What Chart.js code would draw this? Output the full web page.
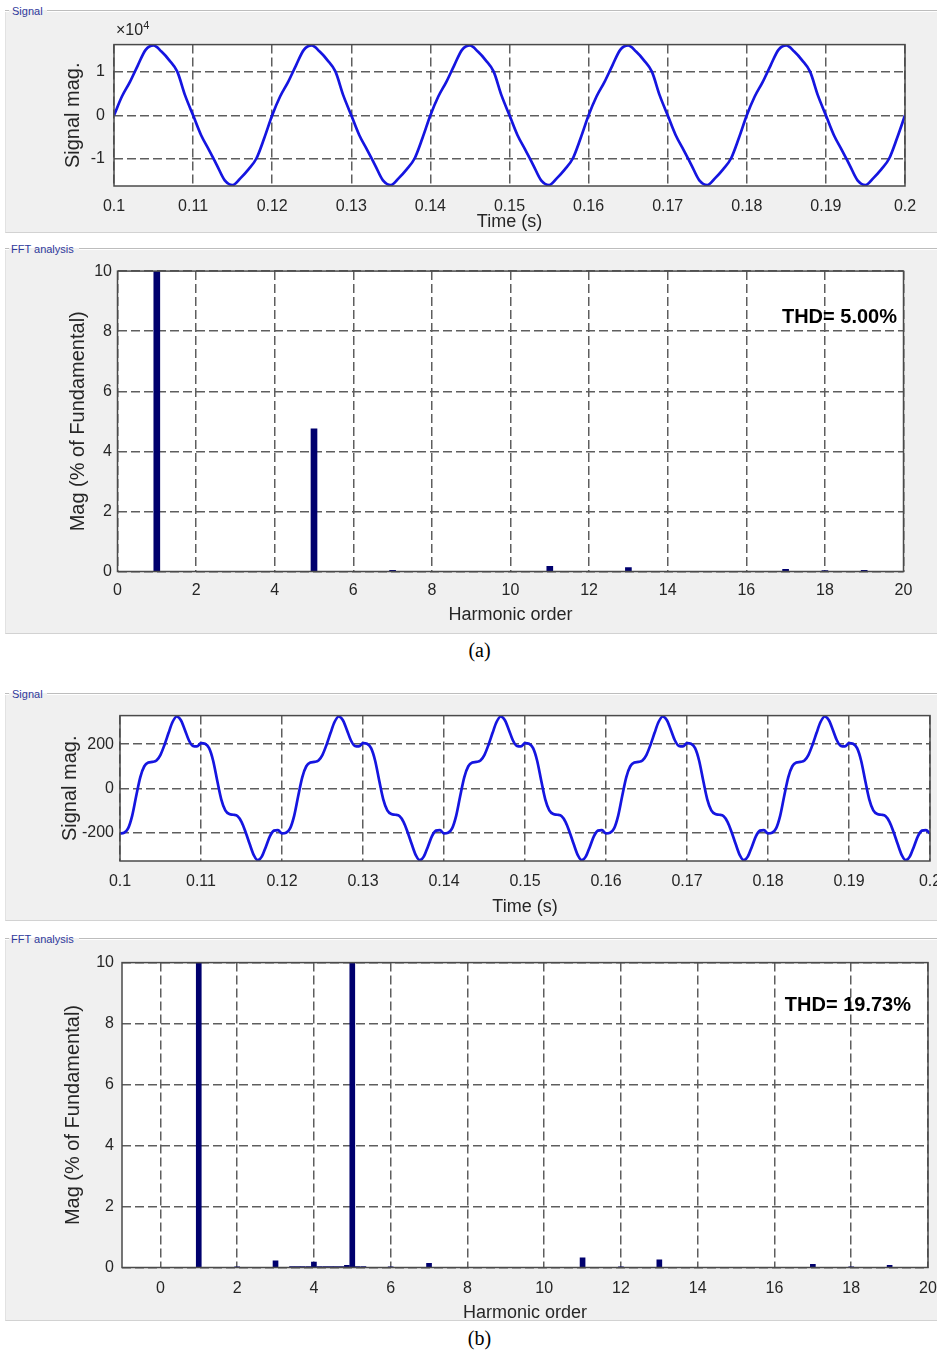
<!DOCTYPE html>
<html>
<head>
<meta charset="utf-8">
<script src="https://cdn.jsdelivr.net/npm/chart.js@4.4.1/dist/chart.umd.min.js"></script>
<style>
html,body{margin:0;padding:0;background:#fff;width:937px;height:1351px;overflow:hidden;position:relative;font-family:'Liberation Sans',Arial,Helvetica,sans-serif;}
.panel{position:absolute;left:5px;width:940px;background:#f0f0f0;border-bottom:1px solid #d2d2d2;border-left:1px solid #e2e2e2;}
.pline{position:absolute;height:1px;background:#bdbdbd;border-bottom:1px solid #ffffff;}
.ptitle{position:absolute;font-size:11px;line-height:12px;color:#2f3a9c;white-space:nowrap;}
canvas{position:absolute;left:0;}
.thd{position:absolute;font-weight:bold;font-size:20px;line-height:23px;color:#000;white-space:nowrap;}
.cap{position:absolute;left:0;width:959px;text-align:center;font-family:'Liberation Serif','Times New Roman',serif;font-size:20px;line-height:23px;color:#000;}
.exp{position:absolute;font-size:16px;line-height:18px;color:#262626;white-space:nowrap;}
.exp sup{font-size:11px;vertical-align:6px;line-height:0;}
</style>
</head>
<body>
<div class="panel" style="top:10px;height:222px;"></div>
<div class="pline" style="left:5px;width:4px;top:10px;"></div>
<div class="pline" style="left:47px;width:900px;top:10px;"></div>
<div class="ptitle" style="left:12px;top:5px;">Signal</div>

<div class="panel" style="top:248px;height:385px;"></div>
<div class="pline" style="left:5px;width:4px;top:248px;"></div>
<div class="pline" style="left:79px;width:870px;top:248px;"></div>
<div class="ptitle" style="left:11px;top:243px;">FFT analysis</div>

<div class="panel" style="top:693px;height:227px;"></div>
<div class="pline" style="left:5px;width:4px;top:693px;"></div>
<div class="pline" style="left:47px;width:900px;top:693px;"></div>
<div class="ptitle" style="left:12px;top:688px;">Signal</div>

<div class="panel" style="top:938px;height:382px;"></div>
<div class="pline" style="left:5px;width:4px;top:938px;"></div>
<div class="pline" style="left:79px;width:870px;top:938px;"></div>
<div class="ptitle" style="left:11px;top:933px;">FFT analysis</div>

<canvas id="c1"></canvas>
<canvas id="c2"></canvas>
<canvas id="c3"></canvas>
<canvas id="c4"></canvas>

<div class="exp" style="left:116px;top:21px;">&times;10<sup>4</sup></div>
<div class="thd" style="right:40px;top:305px;">THD= 5.00%</div>
<div class="thd" style="right:26px;top:993px;">THD= 19.73%</div>
<div class="cap" style="top:639px;">(a)</div>
<div class="cap" style="top:1327px;">(b)</div>

<script>
// ---------- DATA ----------
// (a) signal, values in units of 10^4
const signalATime = [
0.100,0.101,0.102,0.103,0.104,0.105,0.106,0.107,0.108,0.109,
0.110,0.111,0.112,0.113,0.114,0.115,0.116,0.117,0.118,0.119,
0.120,0.121,0.122,0.123,0.124,0.125,0.126,0.127,0.128,0.129,
0.130,0.131,0.132,0.133,0.134,0.135,0.136,0.137,0.138,0.139,
0.140,0.141,0.142,0.143,0.144,0.145,0.146,0.147,0.148,0.149,
0.150,0.151,0.152,0.153,0.154,0.155,0.156,0.157,0.158,0.159,
0.160,0.161,0.162,0.163,0.164,0.165,0.166,0.167,0.168,0.169,
0.170,0.171,0.172,0.173,0.174,0.175,0.176,0.177,0.178,0.179,
0.180,0.181,0.182,0.183,0.184,0.185,0.186,0.187,0.188,0.189,
0.190,0.191,0.192,0.193,0.194,0.195,0.196,0.197,0.198,0.199,
0.200];
const signalAValues = [
0,0.43,0.76,1.14,1.5,1.6,1.46,1.26,1.0,0.45,
0,-0.45,-0.79,-1.14,-1.49,-1.6,-1.44,-1.24,-0.99,-0.52,
0,0.43,0.76,1.14,1.5,1.6,1.46,1.26,1.0,0.45,
0,-0.45,-0.79,-1.14,-1.49,-1.6,-1.44,-1.24,-0.99,-0.52,
0,0.43,0.76,1.14,1.5,1.6,1.46,1.26,1.0,0.45,
0,-0.45,-0.79,-1.14,-1.49,-1.6,-1.44,-1.24,-0.99,-0.52,
0,0.43,0.76,1.14,1.5,1.6,1.46,1.26,1.0,0.45,
0,-0.45,-0.79,-1.14,-1.49,-1.6,-1.44,-1.24,-0.99,-0.52,
0,0.43,0.76,1.14,1.5,1.6,1.46,1.26,1.0,0.45,
0,-0.45,-0.79,-1.14,-1.49,-1.6,-1.44,-1.24,-0.99,-0.52,
0];

// (b) signal
const signalBTime = [
0.1000,0.1005,0.1010,0.1015,0.1020,0.1025,0.1030,0.1035,0.1040,0.1045,
0.1050,0.1055,0.1060,0.1065,0.1070,0.1075,0.1080,0.1085,0.1090,0.1095,
0.1100,0.1105,0.1110,0.1115,0.1120,0.1125,0.1130,0.1135,0.1140,0.1145,
0.1150,0.1155,0.1160,0.1165,0.1170,0.1175,0.1180,0.1185,0.1190,0.1195,
0.1200,0.1205,0.1210,0.1215,0.1220,0.1225,0.1230,0.1235,0.1240,0.1245,
0.1250,0.1255,0.1260,0.1265,0.1270,0.1275,0.1280,0.1285,0.1290,0.1295,
0.1300,0.1305,0.1310,0.1315,0.1320,0.1325,0.1330,0.1335,0.1340,0.1345,
0.1350,0.1355,0.1360,0.1365,0.1370,0.1375,0.1380,0.1385,0.1390,0.1395,
0.1400,0.1405,0.1410,0.1415,0.1420,0.1425,0.1430,0.1435,0.1440,0.1445,
0.1450,0.1455,0.1460,0.1465,0.1470,0.1475,0.1480,0.1485,0.1490,0.1495,
0.1500,0.1505,0.1510,0.1515,0.1520,0.1525,0.1530,0.1535,0.1540,0.1545,
0.1550,0.1555,0.1560,0.1565,0.1570,0.1575,0.1580,0.1585,0.1590,0.1595,
0.1600,0.1605,0.1610,0.1615,0.1620,0.1625,0.1630,0.1635,0.1640,0.1645,
0.1650,0.1655,0.1660,0.1665,0.1670,0.1675,0.1680,0.1685,0.1690,0.1695,
0.1700,0.1705,0.1710,0.1715,0.1720,0.1725,0.1730,0.1735,0.1740,0.1745,
0.1750,0.1755,0.1760,0.1765,0.1770,0.1775,0.1780,0.1785,0.1790,0.1795,
0.1800,0.1805,0.1810,0.1815,0.1820,0.1825,0.1830,0.1835,0.1840,0.1845,
0.1850,0.1855,0.1860,0.1865,0.1870,0.1875,0.1880,0.1885,0.1890,0.1895,
0.1900,0.1905,0.1910,0.1915,0.1920,0.1925,0.1930,0.1935,0.1940,0.1945,
0.1950,0.1955,0.1960,0.1965,0.1970,0.1975,0.1980,0.1985,0.1990,0.1995,
0.2000];
const signalBValues = [
-205,-202,-182,-125,-35,50,100,117,120,126,
152,198,252,302,326,310,266,218,192,190,
205,202,182,125,35,-50,-100,-117,-120,-126,
-152,-198,-252,-302,-326,-310,-266,-218,-192,-190,
-205,-202,-182,-125,-35,50,100,117,120,126,
152,198,252,302,326,310,266,218,192,190,
205,202,182,125,35,-50,-100,-117,-120,-126,
-152,-198,-252,-302,-326,-310,-266,-218,-192,-190,
-205,-202,-182,-125,-35,50,100,117,120,126,
152,198,252,302,326,310,266,218,192,190,
205,202,182,125,35,-50,-100,-117,-120,-126,
-152,-198,-252,-302,-326,-310,-266,-218,-192,-190,
-205,-202,-182,-125,-35,50,100,117,120,126,
152,198,252,302,326,310,266,218,192,190,
205,202,182,125,35,-50,-100,-117,-120,-126,
-152,-198,-252,-302,-326,-310,-266,-218,-192,-190,
-205,-202,-182,-125,-35,50,100,117,120,126,
152,198,252,302,326,310,266,218,192,190,
205,202,182,125,35,-50,-100,-117,-120,-126,
-152,-198,-252,-302,-326,-310,-266,-218,-192,-190,
-205];

// FFT spectra (% of fundamental), harmonic order
const fftAOrders = [1, 5, 7, 11, 13, 17, 18, 19];
const fftAValues = [100, 4.75, 0.04, 0.17, 0.13, 0.07, 0.03, 0.04];
const fftBOrders = [1, 2, 3, 3.43, 3.57, 3.71, 3.86, 4, 4.14, 4.29, 4.43, 4.57, 4.71, 4.86, 5, 5.14, 5.29, 6, 7, 11, 12, 13, 17, 18, 19];
const fftBValues = [100, 0.02, 0.22, 0.03, 0.03, 0.03, 0.03, 0.18, 0.03, 0.03, 0.03, 0.03, 0.03, 0.07, 19.5, 0.03, 0.03, 0.02, 0.14, 0.32, 0.02, 0.25, 0.10, 0.02, 0.07];

// tick labels
const timeTicks = [0.1, 0.11, 0.12, 0.13, 0.14, 0.15, 0.16, 0.17, 0.18, 0.19, 0.2];
const signalATicks = [-1, 0, 1];
const signalBTicks = [-200, 0, 200];
const magTicks = [0, 2, 4, 6, 8, 10];
const harmonicTicks = [0, 2, 4, 6, 8, 10, 12, 14, 16, 18, 20];

// ---------- DRAWING ----------
const FONT = "'Liberation Sans', Arial, Helvetica, sans-serif";
const TXT = '#262626';
const GRID = '#5e5e5e';
const DASH = [9, 4];
const CW = 960;

const framePlugin = {
  id: 'frame',
  beforeDraw(c) {
    const a = c.chartArea, x = c.ctx;
    x.save(); x.fillStyle = '#ffffff';
    x.fillRect(a.left, a.top, a.right - a.left, a.bottom - a.top);
    x.restore();
  },
  afterDatasetsDraw(c) {
    const a = c.chartArea, x = c.ctx;
    x.save(); x.strokeStyle = '#4a4a4a'; x.lineWidth = 1.5;
    x.strokeRect(a.left, a.top, a.right - a.left, a.bottom - a.top);
    x.restore();
  }
};

function pts(xs, ys) { return xs.map((v, i) => ({x: v, y: ys[i]})); }

function build(id, g, type, dataset, xa, ya) {
  const cv = document.getElementById(id);
  cv.width = CW; cv.height = g.h;
  cv.style.top = g.top + 'px';
  cv.style.width = CW + 'px'; cv.style.height = g.h + 'px';
  return new Chart(cv, {
    type: type,
    data: {datasets: [dataset]},
    options: {
      responsive: false, animation: false, devicePixelRatio: 1, events: [],
      layout: {padding: {left: 0, top: g.padTop, right: CW - g.right, bottom: 0}},
      plugins: {legend: {display: false}, tooltip: {enabled: false}, title: {display: false}},
      scales: {
        x: {
          type: 'linear', position: 'bottom', min: xa.min, max: xa.max, offset: false,
          afterBuildTicks: s => { s.ticks = xa.ticks.map(v => ({value: v})); },
          afterFit: s => { s.height = g.xh; },
          grid: {color: GRID, lineWidth: 1.5, drawTicks: false, offset: false},
          border: {display: false, dash: DASH},
          ticks: {font: {family: FONT, size: 16}, color: TXT, padding: g.xTickPad, maxRotation: 0, autoSkip: false,
                  callback: xa.fmt},
          title: {display: true, text: xa.title, font: {family: FONT, size: 18}, color: TXT, padding: {top: 0, bottom: 0}}
        },
        y: {
          type: 'linear', position: 'left', min: ya.min, max: ya.max,
          afterBuildTicks: s => { s.ticks = ya.ticks.map(v => ({value: v})); },
          afterFit: s => { s.width = g.left; },
          grid: {color: GRID, lineWidth: 1.5, drawTicks: false},
          border: {display: false, dash: DASH},
          ticks: {font: {family: FONT, size: 16}, color: TXT, padding: g.yTickPad, callback: v => String(v)},
          title: {display: true, text: ya.title, font: {family: FONT, size: 20}, color: TXT,
                  padding: {top: g.yTitleX - 12, bottom: 0}}
        }
      }
    },
    plugins: [framePlugin]
  });
}

const timeFmt = v => String(+v.toFixed(2));
const lineStyle = {borderColor: '#1515e0', borderWidth: 2.7, pointRadius: 0, fill: false,
                   cubicInterpolationMode: 'monotone'};

// (a) signal
build('c1', {top: 26, h: 207, padTop: 15, left: 114, right: 905, xh: 47, xTickPad: 11, yTickPad: 9, yTitleX: 73},
  'line', Object.assign({data: pts(signalATime, signalAValues)}, lineStyle),
  {min: 0.1, max: 0.2, ticks: timeTicks, fmt: timeFmt, title: 'Time (s)'},
  {min: -1.62, max: 1.62, ticks: signalATicks, title: 'Signal mag.'});

// (a) FFT
build('c2', {top: 256, h: 370, padTop: 15, left: 117.5, right: 903.5, xh: 54.5, xTickPad: 9, yTickPad: 5.5, yTitleX: 78},
  'bar', {data: pts(fftAOrders, fftAValues), backgroundColor: '#00006e', barThickness: 6, borderWidth: 0},
  {min: 0, max: 20, ticks: harmonicTicks, fmt: v => String(v), title: 'Harmonic order'},
  {min: 0, max: 10, ticks: magTicks, title: 'Mag (% of Fundamental)'});

// (b) signal
build('c3', {top: 700, h: 218, padTop: 13, left: 120, right: 930, xh: 57, xTickPad: 11, yTickPad: 6, yTitleX: 70},
  'line', Object.assign({data: pts(signalBTime, signalBValues)}, lineStyle),
  {min: 0.1, max: 0.2, ticks: timeTicks, fmt: timeFmt, title: 'Time (s)'},
  {min: -330, max: 330, ticks: signalBTicks, title: 'Signal mag.'});

// (b) FFT
build('c4', {top: 945, h: 379, padTop: 13, left: 122, right: 928, xh: 56.5, xTickPad: 11, yTickPad: 8, yTitleX: 73},
  'bar', {data: pts(fftBOrders, fftBValues), backgroundColor: '#00006e', barThickness: 5, borderWidth: 0},
  {min: -1, max: 20, ticks: harmonicTicks, fmt: v => String(v), title: 'Harmonic order'},
  {min: 0, max: 10, ticks: magTicks, title: 'Mag (% of Fundamental)'});
</script>
</body>
</html>
